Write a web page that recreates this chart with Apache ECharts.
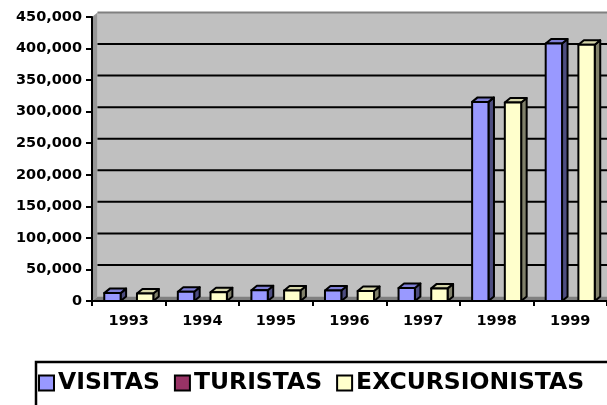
<!DOCTYPE html>
<html>
<head>
<meta charset="utf-8">
<style>
html,body{margin:0;padding:0;background:#fff;}
#chart{width:607px;height:405px;}
</style>
<script src="https://cdn.jsdelivr.net/npm/echarts@6/dist/echarts.min.js"></script>
</head>
<body>
<div id="chart"></div>
<script>
var years = ['1993','1994','1995','1996','1997','1998','1999'];
var visitas = [12500, 14500, 17000, 16500, 20500, 315500, 408000];
var turistas = [0, 0, 0, 0, 0, 0, 0];
var excursionistas = [12000, 14000, 16500, 16000, 20000, 314500, 406000];
var yTicks = [0, 50000, 100000, 150000, 200000, 250000, 300000, 350000, 400000, 450000];
var seriesNames = ['VISITAS', 'TURISTAS', 'EXCURSIONISTAS'];

var FONT = 'DejaVu Sans';
var DX = 5.5, DY = 4.5;

var palette = [
  {front:'#9999ff', side:'#4d4d80', top:'#7f7fd6'},
  {front:'#993366', side:'#4d1a33', top:'#7a2952'},
  {front:'#ffffcc', side:'#80806a', top:'#d6d6aa'}
];

function fmt(v){ return String(v).replace(/\B(?=(\d{3})+(?!\d))/g, ','); }

function wallsRender(params, api){
  var cs = params.coordSys;
  var x = cs.x, y = cs.y, w = cs.width, h = cs.height;
  var children = [];
  children.push({type:'rect', shape:{x:x+DX, y:y-DY, width:w, height:h}, style:{fill:'#c0c0c0'}});
  children.push({type:'polygon', shape:{points:[[x,y],[x+DX,y-DY],[x+DX,y+h-DY],[x,y+h]]}, style:{fill:'#969696'}});
  children.push({type:'polygon', shape:{points:[[x,y+h],[x+DX,y+h-DY],[x+w+DX,y+h-DY],[x+w,y+h]]}, style:{fill:'#808080'}});
  for (var i = 1; i < yTicks.length; i++) {
    var p = api.coord([0, yTicks[i]]);
    var last = (i === yTicks.length - 1);
    children.push({type:'line', shape:{x1:x+DX, y1:p[1]-DY, x2:x+w+DX, y2:p[1]-DY},
      style:{stroke: last ? '#808080' : '#000', lineWidth: 2}});
  }
  return {type:'group', children:children};
}

function barRender(si){
  return function(params, api){
    var cat = api.value(0), val = api.value(1);
    if (!val) return;
    var base = api.coord([cat, 0]);
    var top = api.coord([cat, val]);
    var band = api.size([1, 0])[0];
    var bw = band / 4.5;
    var x0 = base[0] - band/2 + 0.75*bw + si*bw;
    var x1 = x0 + bw;
    var yb = base[1], yt = top[1];
    var c = palette[si];
    var st = {stroke:'#000', lineWidth:2, lineJoin:'round'};
    return {type:'group', children:[
      {type:'polygon', shape:{points:[[x1,yb],[x1+DX,yb-DY],[x1+DX,yt-DY],[x1,yt]]}, style:Object.assign({fill:c.side}, st)},
      {type:'polygon', shape:{points:[[x0,yt],[x0+DX,yt-DY],[x1+DX,yt-DY],[x1,yt]]}, style:Object.assign({fill:c.top}, st)},
      {type:'rect', shape:{x:x0, y:yt, width:bw, height:yb-yt}, style:Object.assign({fill:c.front}, st)}
    ]};
  };
}

var seriesData = [visitas, turistas, excursionistas];
var series = [{
  type:'custom', name:'walls', z:1, silent:true, clip:false,
  renderItem: wallsRender, data:[[0, 0]]
}];
for (var s = 0; s < 3; s++) {
  series.push({
    type:'custom', name: seriesNames[s], z: 3, clip:false,
    itemStyle:{color: palette[s].front},
    renderItem: barRender(s),
    data: years.map(function(y, i){ return [i, seriesData[s][i]]; })
  });
}

var chart = echarts.init(document.getElementById('chart'), null, {renderer:'canvas'});
chart.setOption({
  animation:false,
  backgroundColor:'#ffffff',
  grid:{left:92, top:17, width:525, height:284, containLabel:false},
  xAxis:{
    type:'category', data: years, boundaryGap:true, z:10,
    axisLine:{show:true, lineStyle:{color:'#000', width:2}},
    axisTick:{show:true, length:5, lineStyle:{color:'#000', width:2}},
    axisLabel:{margin:13, color:'#000', fontFamily:FONT, fontWeight:'bold', fontSize:14.5},
    splitLine:{show:false}
  },
  yAxis:{
    type:'value', min: yTicks[0], max: yTicks[yTicks.length-1], interval: yTicks[1]-yTicks[0], z:10,
    axisLine:{show:true, lineStyle:{color:'#000', width:2}},
    axisTick:{show:true, length:6, lineStyle:{color:'#000', width:2}},
    axisLabel:{margin:10, color:'#000', fontFamily:FONT, fontWeight:'bold', fontSize:14.5, formatter: fmt},
    splitLine:{show:false}
  },
  legend:{
    data: seriesNames,
    left:36, top:362, width:700,
    orient:'horizontal',
    padding:[9, 60, 40, 2],
    itemGap:14, itemWidth:15, itemHeight:15,
    icon:'rect',
    borderColor:'#000', borderWidth:2.5,
    itemStyle:{borderColor:'#000', borderWidth:2},
    textStyle:{color:'#000', fontFamily:FONT, fontWeight:'bold', fontSize:23.5, padding:[0,0,0,-1]}
  },
  series: series
});
</script>
</body>
</html>
